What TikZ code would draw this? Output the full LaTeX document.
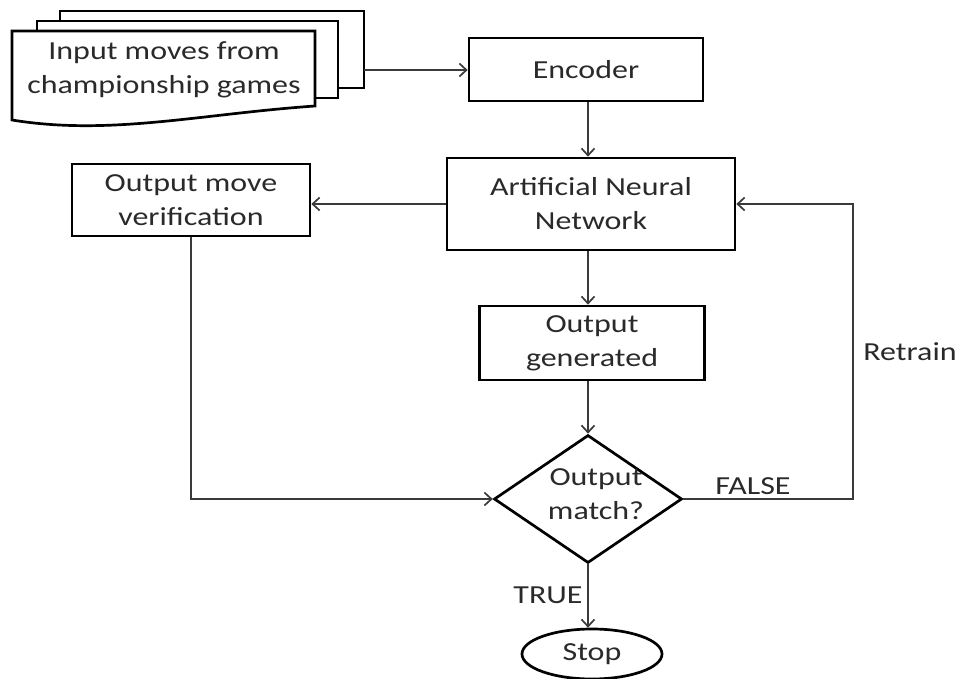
\documentclass[tikz,border=0pt]{standalone}
\usepackage{fontspec}
\setmainfont{Carlito}[FakeStretch=1.23]
\usetikzlibrary{shapes.geometric,arrows.meta,calc}
\definecolor{txt}{HTML}{2A2A2A}
\definecolor{ln}{HTML}{3A3A3A}
\begin{document}
\begin{tikzpicture}[x=1pt,y=-1pt,
  every node/.style={font=\fontsize{26}{34}\selectfont, text=txt},
  procbox/.style={draw=black, line width=2.7pt, fill=white, rectangle, inner sep=0pt, align=center},
  sheet/.style={draw=black, line width=2.7pt, fill=white},
  conn/.style={draw=ln, line width=2pt, -{Straight Barb[length=7pt,width=13pt,line width=1.7pt]}},
  lbl/.style={inner sep=0pt}
]
\useasboundingbox (0,0) rectangle (959,679);
\fill[white] (0,0) rectangle (959,679);

% multi-document
\draw[sheet] (60,11) rectangle (364,88);
\draw[sheet] (37,21) rectangle (338,98);
\draw[sheet] (12,31) -- (315,31) -- (315,106)
  .. controls (200,114) and (110,136) .. (12,120) -- cycle;
\node[lbl, align=center] (doc) at (164,70) {Input moves from\\championship games};
\coordinate (docR) at (364,70);

\coordinate (col) at (588,0);
\coordinate (rt) at (853,0);

\node[procbox, minimum width=234pt, minimum height=63pt] (enc) at (586,69.5) {Encoder};
\node[procbox, minimum width=288pt, minimum height=92pt] (ann) at (591,204) {Artificial Neural\\Network};
\node[procbox, minimum width=238pt, minimum height=72pt] (ver) at (191,200) {Output move\\verification};
\node[procbox, minimum width=225pt, minimum height=74pt] (gen) at (592,343) {Output\\generated};
\node[diamond, draw=black, line width=2.7pt, fill=white, inner sep=0pt, aspect=1.47,
      minimum width=188pt, minimum height=128pt] (dia) at (588,499) {};
\node[lbl, align=center] (diat) at (596,494) {Output\\match?};
\node[ellipse, draw=black, line width=2.7pt, fill=white, inner sep=0pt,
      minimum width=140pt, minimum height=50pt] (stop) at (592,654) {Stop};

\node[lbl] (false) at (753,486) {FALSE};
\node[lbl] (true) at (548,595) {TRUE};
\node[lbl] (retrain) at (910,352) {Retrain};

% connectors
\draw[conn] (docR) -- (enc.west |- docR);
\draw[conn] (col |- enc.south) -- (col |- ann.north);
\draw[conn] (ann.west) -- (ann.west -| ver.east);
\draw[conn] (col |- ann.south) -- (col |- gen.north);
\draw[conn] (col |- gen.south) -- (dia.north);
\draw[conn] (dia.south) -- (dia.south |- stop.north);
\draw[conn] (ver.south) |- (dia.west);
\draw[conn] (dia.east) -| (rt |- ann.east) -- (ann.east);
\end{tikzpicture}
\end{document}
